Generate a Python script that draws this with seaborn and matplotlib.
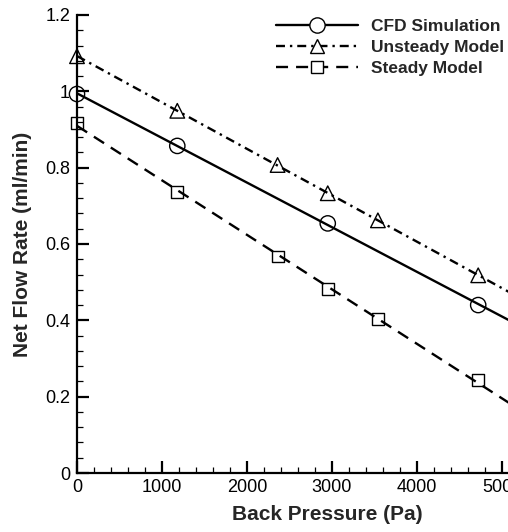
import numpy as np
import pandas as pd
import matplotlib
matplotlib.use("Agg")
import matplotlib.pyplot as plt
from matplotlib.lines import Line2D
from matplotlib.ticker import MultipleLocator, FuncFormatter
import seaborn as sns

# ---- data ----
cfd_x = [0, 1180, 2950, 4720]
cfd_y = [0.993, 0.857, 0.654, 0.440]
unsteady_x = [0, 1180, 2360, 2950, 3540, 4720]
unsteady_y = [1.092, 0.949, 0.807, 0.733, 0.662, 0.518]
steady_x = [0, 1180, 2360, 2950, 3540, 4720]
steady_y = [0.918, 0.737, 0.567, 0.482, 0.403, 0.244]
series_names = ["CFD Simulation", "Unsteady Model", "Steady Model"]

sns.set_style("ticks")
plt.rcParams["font.family"] = ["Liberation Sans", "DejaVu Sans"]

W, H = 508, 532
fig = plt.figure(figsize=(W / 100, H / 100), dpi=100)
ax_left, ax_bottom_px, ax_top_px = 77, 473, 15
ax_w_px = 442
ax = fig.add_axes([ax_left / W, (H - ax_bottom_px) / H, ax_w_px / W,
                   (ax_bottom_px - ax_top_px) / H])

lw = 1.7
styles = [
    dict(ls="-", marker="o", ms=11),
    dict(ls=(0, (3.8, 2.1, 1, 2.1)), marker="^", ms=10.5),
    dict(ls=(0, (5.1, 3.4)), marker="s", ms=8.5),
]
data = [(cfd_x, cfd_y), (unsteady_x, unsteady_y), (steady_x, steady_y)]

xfit = np.linspace(0, 5200, 50)
handles = []
for (xs, ys), st, name in zip(data, styles, series_names):
    coef = np.polyfit(xs, ys, 1)
    fit = pd.DataFrame({"x": xfit, "y": np.polyval(coef, xfit)})
    sns.lineplot(data=fit, x="x", y="y", ax=ax, color="black", lw=lw,
                 linestyle=st["ls"], legend=False)
    pts = pd.DataFrame({"x": xs, "y": ys})
    sns.scatterplot(data=pts, x="x", y="y", ax=ax, marker=st["marker"],
                    s=st["ms"] ** 2, facecolor="none", edgecolor="black",
                    linewidth=1.0, legend=False, zorder=5, clip_on=False)
    handles.append(Line2D([], [], color="black", lw=lw, linestyle=st["ls"],
                          marker=st["marker"], ms=st["ms"],
                          mfc="white", mec="black", mew=1.0))

ax.set_xlim(0, 5200)
ax.set_ylim(0, 1.2)
ax.xaxis.set_major_locator(MultipleLocator(1000))
ax.xaxis.set_minor_locator(MultipleLocator(200))
ax.yaxis.set_major_locator(MultipleLocator(0.2))
ax.yaxis.set_minor_locator(MultipleLocator(0.04))
ax.yaxis.set_major_formatter(FuncFormatter(lambda v, p: f"{v:g}"))
ax.xaxis.set_major_formatter(FuncFormatter(lambda v, p: f"{v:g}"))

for s in ["top", "right"]:
    ax.spines[s].set_visible(False)
for s in ["left", "bottom"]:
    ax.spines[s].set_linewidth(1.6)
    ax.spines[s].set_color("black")

ax.tick_params(which="major", direction="in", length=8.6, width=1.6,
               labelsize=13, pad=4, colors="black")
ax.tick_params(axis="y", which="major", pad=5)
ax.tick_params(which="minor", direction="in", length=4.3, width=0.9,
               colors="black")

ax.set_xlabel("Back Pressure (Pa)", fontsize=15, fontweight="bold")
ax.set_ylabel("Net Flow Rate (ml/min)", fontsize=15, fontweight="bold")
ax.xaxis.set_label_coords((327 - 77) / ax_w_px, -(505 - 473) / 458)
ax.yaxis.set_label_coords(-(77 - 32) / ax_w_px, 0.5)
ax.xaxis.label.set_va("top")

leg = fig.legend(handles, series_names, loc="upper left",
                 bbox_to_anchor=(276 / W, 1 - 19 / H), frameon=False,
                 prop=dict(size=12.5, weight="bold"), handlelength=4.7,
                 handletextpad=0.75, labelspacing=0.33, borderpad=0,
                 borderaxespad=0)

fig.savefig("out.png", dpi=100)
